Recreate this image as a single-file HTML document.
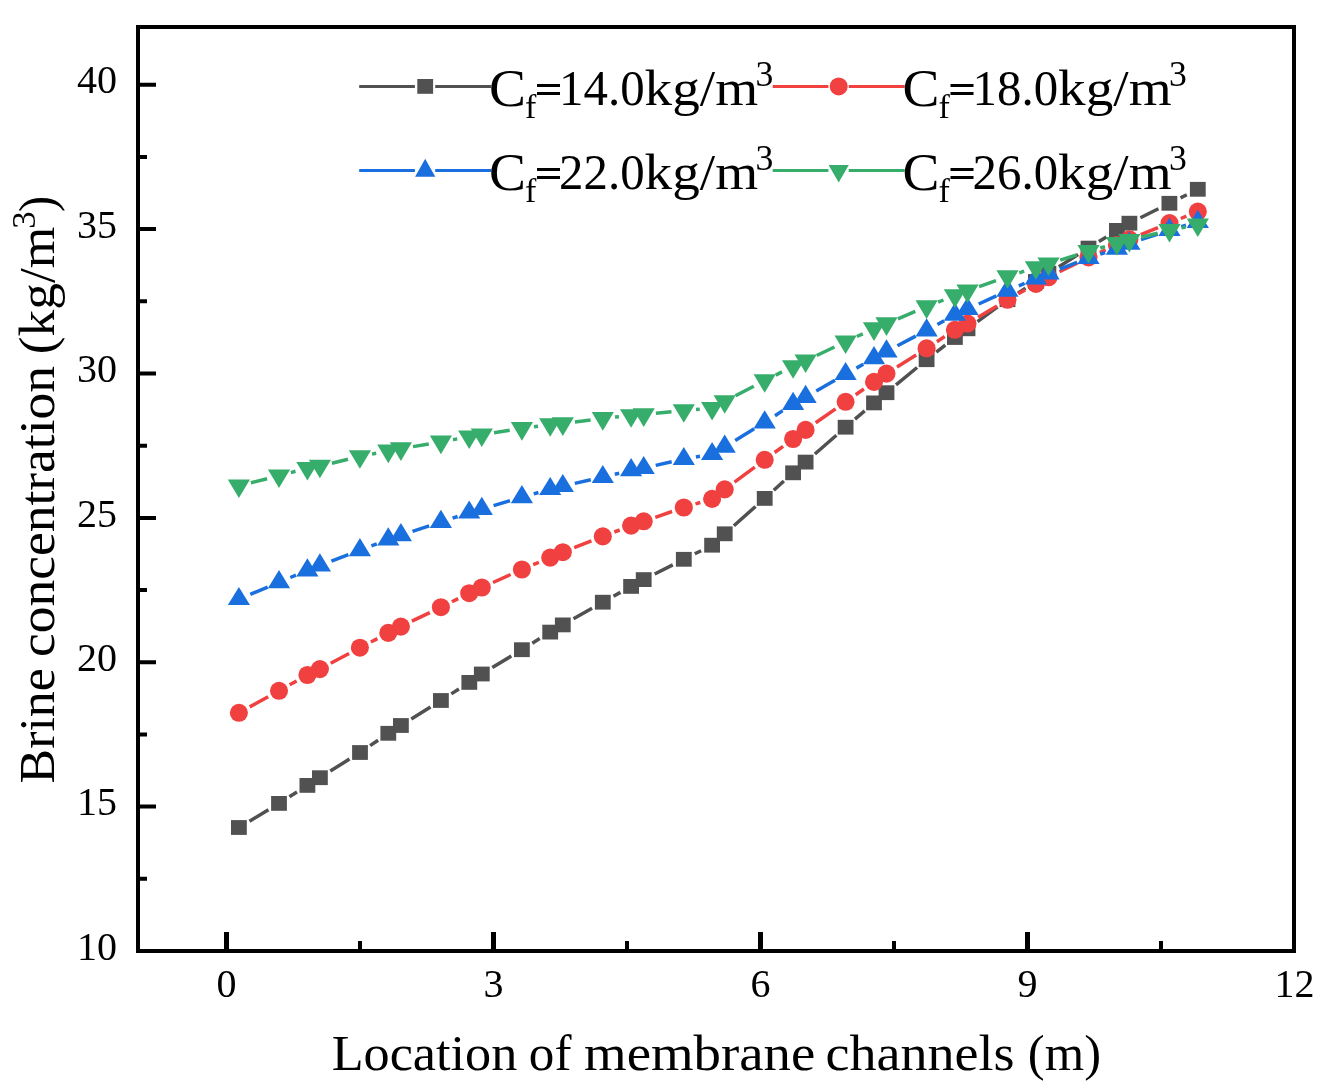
<!DOCTYPE html>
<html><head><meta charset="utf-8"><title>chart</title>
<style>
html,body{margin:0;padding:0;background:#fff;}
body{width:1332px;height:1091px;overflow:hidden;}
svg{display:block;will-change:transform;font-family:"Liberation Serif",serif;}
text{fill:#000;}
</style></head><body>
<svg width="1332" height="1091" viewBox="0 0 1332 1091">
<rect width="1332" height="1091" fill="#fff"/>
<path d="M249.5 821.2L268.5 809.7M289.4 796.8L297.0 792.0M330.3 771.1L349.5 759.1M370.1 745.6L378.1 740.2M411.3 719.0L430.5 707.0M451.3 693.9L458.9 689.0M492.3 667.6L511.3 656.1M532.3 643.2L539.7 638.6M573.5 618.8L592.1 608.3M613.5 596.2L620.4 592.4M654.7 574.0L672.8 564.9M694.8 553.8L701.1 550.7M733.9 525.7L755.5 506.5M773.8 490.2L783.9 481.0M814.9 454.0L836.4 435.3M855.0 419.2L864.7 410.9M896.0 384.9L917.1 367.5M936.3 352.1L945.3 345.1M977.5 321.6L997.6 306.9M1017.9 293.1L1025.5 288.1M1058.9 266.7L1078.1 254.6M1098.9 241.6L1106.4 236.9M1140.4 217.7L1158.4 208.8M1180.5 197.9L1186.8 194.7" stroke="#515151" stroke-width="3.5" fill="none"/><g fill="#515151"><rect x="231.0" y="820.1" width="15.8" height="14.8"/><rect x="271.1" y="796.0" width="15.8" height="14.8"/><rect x="299.5" y="778.0" width="15.8" height="14.8"/><rect x="312.0" y="770.3" width="15.8" height="14.8"/><rect x="352.1" y="745.1" width="15.8" height="14.8"/><rect x="380.4" y="725.9" width="15.8" height="14.8"/><rect x="393.0" y="718.1" width="15.8" height="14.8"/><rect x="433.0" y="693.1" width="15.8" height="14.8"/><rect x="461.4" y="675.0" width="15.8" height="14.8"/><rect x="473.9" y="666.6" width="15.8" height="14.8"/><rect x="514.0" y="642.3" width="15.8" height="14.8"/><rect x="542.3" y="624.7" width="15.8" height="14.8"/><rect x="554.9" y="617.5" width="15.8" height="14.8"/><rect x="594.9" y="594.8" width="15.8" height="14.8"/><rect x="623.2" y="579.0" width="15.8" height="14.8"/><rect x="635.8" y="572.2" width="15.8" height="14.8"/><rect x="675.9" y="551.9" width="15.8" height="14.8"/><rect x="704.2" y="537.8" width="15.8" height="14.8"/><rect x="716.8" y="526.4" width="15.8" height="14.8"/><rect x="756.8" y="491.0" width="15.8" height="14.8"/><rect x="785.2" y="465.4" width="15.8" height="14.8"/><rect x="797.7" y="454.7" width="15.8" height="14.8"/><rect x="837.7" y="419.8" width="15.8" height="14.8"/><rect x="866.1" y="395.5" width="15.8" height="14.8"/><rect x="878.6" y="385.3" width="15.8" height="14.8"/><rect x="918.7" y="352.3" width="15.8" height="14.8"/><rect x="947.0" y="330.1" width="15.8" height="14.8"/><rect x="959.6" y="321.4" width="15.8" height="14.8"/><rect x="999.6" y="292.3" width="15.8" height="14.8"/><rect x="1028.0" y="274.1" width="15.8" height="14.8"/><rect x="1040.5" y="265.8" width="15.8" height="14.8"/><rect x="1080.6" y="240.7" width="15.8" height="14.8"/><rect x="1109.0" y="223.0" width="15.8" height="14.8"/><rect x="1121.5" y="215.8" width="15.8" height="14.8"/><rect x="1161.5" y="195.9" width="15.8" height="14.8"/><rect x="1189.9" y="181.9" width="15.8" height="14.8"/></g>
<path d="M249.7 706.9L268.2 696.7M289.7 684.8L296.6 681.0M330.7 663.3L349.1 653.5M370.9 642.0L377.4 638.6M411.9 621.2L429.8 612.6M451.9 601.8L458.2 598.6M493.0 582.5L510.6 574.5M533.2 564.7L538.9 562.4M574.2 547.7L591.4 540.9M614.3 532.0L619.7 530.0M655.3 517.3L672.1 511.5M695.5 503.9L700.3 502.5M734.5 482.1L754.8 467.1M774.6 452.5L783.1 446.3M815.7 422.8L835.6 408.9M855.7 394.7L863.9 389.0M897.0 367.0L916.2 355.0M936.9 341.7L944.7 336.5M978.1 317.3L997.0 306.1M1018.3 293.8L1025.2 289.9M1059.5 271.8L1077.5 262.9M1099.8 252.5L1105.6 249.9M1140.8 234.7L1158.0 227.7M1180.8 218.5L1186.4 216.2" stroke="#F14040" stroke-width="3.5" fill="none"/><g fill="#F14040"><circle cx="238.9" cy="712.8" r="9.05"/><circle cx="279.0" cy="690.8" r="9.05"/><circle cx="307.4" cy="675.0" r="9.05"/><circle cx="319.9" cy="669.1" r="9.05"/><circle cx="359.9" cy="647.7" r="9.05"/><circle cx="388.3" cy="632.9" r="9.05"/><circle cx="400.9" cy="626.6" r="9.05"/><circle cx="440.9" cy="607.2" r="9.05"/><circle cx="469.2" cy="593.2" r="9.05"/><circle cx="481.8" cy="587.5" r="9.05"/><circle cx="521.9" cy="569.5" r="9.05"/><circle cx="550.2" cy="557.6" r="9.05"/><circle cx="562.8" cy="552.2" r="9.05"/><circle cx="602.8" cy="536.4" r="9.05"/><circle cx="631.1" cy="525.6" r="9.05"/><circle cx="643.7" cy="521.3" r="9.05"/><circle cx="683.8" cy="507.5" r="9.05"/><circle cx="712.1" cy="498.9" r="9.05"/><circle cx="724.7" cy="489.4" r="9.05"/><circle cx="764.7" cy="459.8" r="9.05"/><circle cx="793.1" cy="439.0" r="9.05"/><circle cx="805.6" cy="429.9" r="9.05"/><circle cx="845.6" cy="401.8" r="9.05"/><circle cx="874.0" cy="381.9" r="9.05"/><circle cx="886.5" cy="373.6" r="9.05"/><circle cx="926.6" cy="348.4" r="9.05"/><circle cx="954.9" cy="329.8" r="9.05"/><circle cx="967.5" cy="323.6" r="9.05"/><circle cx="1007.5" cy="299.8" r="9.05"/><circle cx="1035.9" cy="283.9" r="9.05"/><circle cx="1048.5" cy="277.3" r="9.05"/><circle cx="1088.5" cy="257.4" r="9.05"/><circle cx="1116.9" cy="245.0" r="9.05"/><circle cx="1129.4" cy="239.3" r="9.05"/><circle cx="1169.5" cy="223.1" r="9.05"/><circle cx="1197.8" cy="211.6" r="9.05"/></g>
<path d="M250.3 594.3L267.7 587.1M290.3 577.5L296.0 575.2M331.4 561.1L348.4 554.6M371.4 545.9L376.8 543.9M412.5 531.3L429.2 525.9M452.6 518.1L457.6 516.5M493.6 505.6L510.0 500.7M533.7 493.9L538.4 492.5M574.8 483.4L590.8 479.8M614.8 474.2L619.2 473.2M655.7 465.4L671.7 461.8M695.9 457.0L700.0 456.2M735.2 440.4L754.2 428.8M775.0 415.7L782.7 410.6M816.3 390.9L835.0 380.2M856.4 368.1L863.3 364.3M897.4 345.8L915.7 336.1M937.4 324.5L944.2 320.7M978.7 304.0L996.4 295.8M1018.8 285.8L1024.6 283.3M1059.9 269.1L1077.0 262.4M1100.2 254.2L1105.2 252.6M1141.0 239.7L1157.8 234.0M1181.3 226.7L1186.0 225.3" stroke="#1A6FDF" stroke-width="3.5" fill="none"/><g fill="#1A6FDF"><path d="M238.9 586.9l11.1 18.2h-22.2z"/><path d="M279.0 570.1l11.1 18.2h-22.2z"/><path d="M307.4 558.2l11.1 18.2h-22.2z"/><path d="M319.9 553.2l11.1 18.2h-22.2z"/><path d="M359.9 538.1l11.1 18.2h-22.2z"/><path d="M388.3 527.3l11.1 18.2h-22.2z"/><path d="M400.9 523.0l11.1 18.2h-22.2z"/><path d="M440.9 509.8l11.1 18.2h-22.2z"/><path d="M469.2 500.4l11.1 18.2h-22.2z"/><path d="M481.8 496.8l11.1 18.2h-22.2z"/><path d="M521.9 485.1l11.1 18.2h-22.2z"/><path d="M550.2 476.9l11.1 18.2h-22.2z"/><path d="M562.8 473.9l11.1 18.2h-22.2z"/><path d="M602.8 464.9l11.1 18.2h-22.2z"/><path d="M631.1 458.1l11.1 18.2h-22.2z"/><path d="M643.7 455.9l11.1 18.2h-22.2z"/><path d="M683.8 446.9l11.1 18.2h-22.2z"/><path d="M712.1 441.9l11.1 18.2h-22.2z"/><path d="M724.7 434.6l11.1 18.2h-22.2z"/><path d="M764.7 410.2l11.1 18.2h-22.2z"/><path d="M793.1 391.7l11.1 18.2h-22.2z"/><path d="M805.6 384.8l11.1 18.2h-22.2z"/><path d="M845.6 361.9l11.1 18.2h-22.2z"/><path d="M874.0 346.1l11.1 18.2h-22.2z"/><path d="M886.5 339.3l11.1 18.2h-22.2z"/><path d="M926.6 318.2l11.1 18.2h-22.2z"/><path d="M954.9 302.6l11.1 18.2h-22.2z"/><path d="M967.5 296.9l11.1 18.2h-22.2z"/><path d="M1007.5 278.5l11.1 18.2h-22.2z"/><path d="M1035.9 266.2l11.1 18.2h-22.2z"/><path d="M1048.5 261.3l11.1 18.2h-22.2z"/><path d="M1088.5 245.8l11.1 18.2h-22.2z"/><path d="M1116.9 236.6l11.1 18.2h-22.2z"/><path d="M1129.4 231.5l11.1 18.2h-22.2z"/><path d="M1169.5 217.8l11.1 18.2h-22.2z"/><path d="M1197.8 209.8l11.1 18.2h-22.2z"/></g>
<path d="M250.9 482.8L267.1 478.7M290.9 472.6L295.5 471.3M331.9 463.2L348.0 459.3M372.0 454.1L376.2 453.3M413.0 446.6L428.8 443.9M453.0 439.7L457.2 438.9M494.0 432.8L509.7 430.3M534.0 426.7L538.0 426.2M574.9 422.0L590.6 420.0M615.0 417.1L618.9 416.8M655.9 413.3L671.5 411.8M696.0 409.5L699.8 409.3M735.5 395.8L753.8 386.2M775.7 375.1L782.0 371.9M816.7 355.5L834.5 347.0M856.8 336.5L862.8 333.8M897.9 318.8L915.3 311.4M938.1 302.2L943.5 300.0M979.1 286.7L996.0 280.6M1019.3 272.8L1024.2 271.2M1060.2 260.1L1076.8 254.9M1100.3 248.0L1105.0 246.6M1141.3 237.3L1157.5 233.2M1181.5 227.9L1185.7 227.0" stroke="#37AD6B" stroke-width="3.5" fill="none"/><g fill="#37AD6B"><path d="M238.9 498.1l11.1 -18.6h-22.2z"/><path d="M279.0 488.0l11.1 -18.6h-22.2z"/><path d="M307.4 480.5l11.1 -18.6h-22.2z"/><path d="M319.9 478.3l11.1 -18.6h-22.2z"/><path d="M359.9 468.8l11.1 -18.6h-22.2z"/><path d="M388.3 463.2l11.1 -18.6h-22.2z"/><path d="M400.9 460.9l11.1 -18.6h-22.2z"/><path d="M440.9 454.2l11.1 -18.6h-22.2z"/><path d="M469.2 449.0l11.1 -18.6h-22.2z"/><path d="M481.8 447.0l11.1 -18.6h-22.2z"/><path d="M521.9 440.7l11.1 -18.6h-22.2z"/><path d="M550.2 436.8l11.1 -18.6h-22.2z"/><path d="M562.8 435.9l11.1 -18.6h-22.2z"/><path d="M602.8 430.7l11.1 -18.6h-22.2z"/><path d="M631.1 427.8l11.1 -18.6h-22.2z"/><path d="M643.7 426.9l11.1 -18.6h-22.2z"/><path d="M683.8 422.8l11.1 -18.6h-22.2z"/><path d="M712.1 420.6l11.1 -18.6h-22.2z"/><path d="M724.7 413.8l11.1 -18.6h-22.2z"/><path d="M764.7 392.8l11.1 -18.6h-22.2z"/><path d="M793.1 378.8l11.1 -18.6h-22.2z"/><path d="M805.6 373.1l11.1 -18.6h-22.2z"/><path d="M845.6 354.0l11.1 -18.6h-22.2z"/><path d="M874.0 340.9l11.1 -18.6h-22.2z"/><path d="M886.5 335.9l11.1 -18.6h-22.2z"/><path d="M926.6 318.9l11.1 -18.6h-22.2z"/><path d="M954.9 307.9l11.1 -18.6h-22.2z"/><path d="M967.5 303.1l11.1 -18.6h-22.2z"/><path d="M1007.5 288.8l11.1 -18.6h-22.2z"/><path d="M1035.9 279.8l11.1 -18.6h-22.2z"/><path d="M1048.5 276.0l11.1 -18.6h-22.2z"/><path d="M1088.5 263.6l11.1 -18.6h-22.2z"/><path d="M1116.9 255.6l11.1 -18.6h-22.2z"/><path d="M1129.4 252.6l11.1 -18.6h-22.2z"/><path d="M1169.5 242.5l11.1 -18.6h-22.2z"/><path d="M1197.8 237.0l11.1 -18.6h-22.2z"/></g>
<rect x="138" y="27" width="1156" height="924" fill="none" stroke="#000" stroke-width="4"/>
<path d="M138 806.6h18M138 662.2h18M138 517.9h18M138 373.5h18M138 229.1h18M138 84.8h18M138 878.8h9M138 734.4h9M138 590.1h9M138 445.7h9M138 301.3h9M138 156.9h9M360.0 951v-10M627.0 951v-10M894.0 951v-10M1161.0 951v-10" stroke="#000" stroke-width="4" fill="none"/>
<path d="M226.5 951v-19M493.5 951v-19M760.5 951v-19M1027.5 951v-19" stroke="#000" stroke-width="5" fill="none"/>
<g font-size="40px"><text x="117" y="959.6" text-anchor="end">10</text><text x="117" y="815.2" text-anchor="end">15</text><text x="117" y="670.9" text-anchor="end">20</text><text x="117" y="526.5" text-anchor="end">25</text><text x="117" y="382.1" text-anchor="end">30</text><text x="117" y="237.7" text-anchor="end">35</text><text x="117" y="93.3" text-anchor="end">40</text><text x="226.5" y="997" text-anchor="middle">0</text><text x="493.5" y="997" text-anchor="middle">3</text><text x="760.5" y="997" text-anchor="middle">6</text><text x="1027.5" y="997" text-anchor="middle">9</text><text x="1294.5" y="997" text-anchor="middle">12</text></g>
<g id="xt"><text transform="translate(331.69 1070) scale(1.0447 1)" font-size="50px">Location</text><text transform="translate(528.84 1070) scale(1.0222 1)" font-size="50px">of</text><text transform="translate(584.04 1070) scale(1.0959 1)" font-size="50px">membrane</text><text transform="translate(825.54 1070) scale(1.0811 1)" font-size="50px">channels</text><text transform="translate(1027.82 1070) scale(1.0140 1)" font-size="50px">(m)</text></g>
<g id="yt"><text transform="translate(54.2 783.51) rotate(-90) scale(1.0389 1)" font-size="50px">Brine</text><text transform="translate(54.2 657.04) rotate(-90) scale(1.0697 1)" font-size="50px">concentration</text><text transform="translate(54.2 354.20) rotate(-90) scale(1.0675 1)" font-size="50px">(kg/m</text><text transform="translate(35.2 228.80) rotate(-90) scale(1.0258 1)" font-size="34px">3</text><text transform="translate(54.2 212.07) rotate(-90) scale(0.9695 1)" font-size="50px">)</text></g>
<path d="M359.2 86.4H414.9M435.2 86.4H491.2" stroke="#515151" stroke-width="3" fill="none"/><g fill="#515151"><rect x="417.3" y="79.0" width="15.8" height="14.8"/></g><g id="l1"><text transform="translate(489.0 105.6) scale(1.107 1.06)" font-size="50px">C</text><text transform="translate(525.1 118.1) scale(1.0 1.0)" font-size="34px">f</text><rect x="537.0" y="84.0" width="23" height="3"/><rect x="537.0" y="92.0" width="23" height="3"/><text transform="translate(559.1 105.2) scale(0.977 1.0)" font-size="50px">14.0</text><text transform="translate(644.6 105.2) scale(1.104 1.03)" font-size="50px">kg/m</text><text transform="translate(755.6 85.8) scale(1.05 1.05)" font-size="34px">3</text></g>
<path d="M772.7 86.4H828.4000000000001M848.7 86.4H904.7" stroke="#F14040" stroke-width="3" fill="none"/><g fill="#F14040"><circle cx="838.7" cy="86.4" r="9"/></g><g id="l2"><text transform="translate(902.5 105.6) scale(1.107 1.06)" font-size="50px">C</text><text transform="translate(938.6 118.1) scale(1.0 1.0)" font-size="34px">f</text><rect x="950.5" y="84.0" width="23" height="3"/><rect x="950.5" y="92.0" width="23" height="3"/><text transform="translate(972.6 105.2) scale(0.977 1.0)" font-size="50px">18.0</text><text transform="translate(1058.1 105.2) scale(1.104 1.03)" font-size="50px">kg/m</text><text transform="translate(1169.1 85.8) scale(1.05 1.05)" font-size="34px">3</text></g>
<path d="M359.2 170.4H414.9M435.2 170.4H491.2" stroke="#1A6FDF" stroke-width="3" fill="none"/><g fill="#1A6FDF"><path d="M425.2 158.8l10.1 18h-20.2z"/></g><g id="l3"><text transform="translate(489.0 189.6) scale(1.107 1.06)" font-size="50px">C</text><text transform="translate(525.1 202.1) scale(1.0 1.0)" font-size="34px">f</text><rect x="537.0" y="168.0" width="23" height="3"/><rect x="537.0" y="176.0" width="23" height="3"/><text transform="translate(559.1 189.2) scale(0.977 1.0)" font-size="50px">22.0</text><text transform="translate(644.6 189.2) scale(1.104 1.03)" font-size="50px">kg/m</text><text transform="translate(755.6 169.8) scale(1.05 1.05)" font-size="34px">3</text></g>
<path d="M772.7 170.4H828.4000000000001M848.7 170.4H904.7" stroke="#37AD6B" stroke-width="3" fill="none"/><g fill="#37AD6B"><path d="M838.7 182.4l10.1 -17.5h-20.2z"/></g><g id="l4"><text transform="translate(902.5 189.6) scale(1.107 1.06)" font-size="50px">C</text><text transform="translate(938.6 202.1) scale(1.0 1.0)" font-size="34px">f</text><rect x="950.5" y="168.0" width="23" height="3"/><rect x="950.5" y="176.0" width="23" height="3"/><text transform="translate(972.6 189.2) scale(0.977 1.0)" font-size="50px">26.0</text><text transform="translate(1058.1 189.2) scale(1.104 1.03)" font-size="50px">kg/m</text><text transform="translate(1169.1 169.8) scale(1.05 1.05)" font-size="34px">3</text></g>
</svg></body></html>
